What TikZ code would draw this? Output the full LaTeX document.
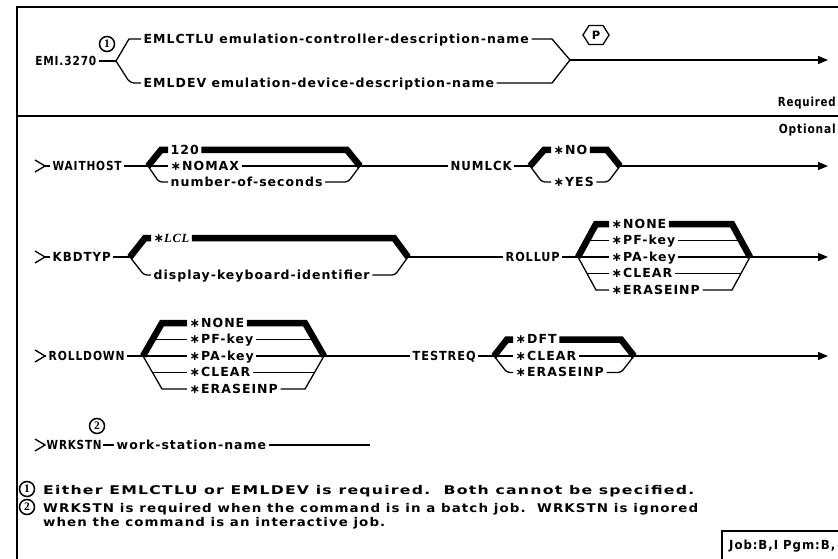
\documentclass[tikz,border=0pt]{standalone}
\usepackage{fontspec}
\usepackage{graphicx}
\setmainfont{DejaVu Sans}
\newfontfamily\lblfont{DejaVu Sans}[LetterSpace=8]
\newfontfamily\fnfont{DejaVu Sans}[LetterSpace=8]
\newfontfamily\lclfont{Liberation Serif}[LetterSpace=6]
\newfontfamily\numfont{Liberation Serif}
\newcommand\fitw[2]{\resizebox{#1}{\height}{#2}}
\usetikzlibrary{arrows.meta,calc}
\begin{document}
\begin{tikzpicture}[x=1pt,y=-1pt,
  lbl/.style={font=\lblfont\bfseries\fontsize{12.5}{14}\selectfont, inner xsep=2.5pt, inner ysep=0pt, text height=8.5pt, text depth=0pt, anchor=west},
  fn/.style={font=\fnfont\bfseries\fontsize{12}{14}\selectfont, inner xsep=0pt, inner ysep=0pt, text height=8.5pt, text depth=0pt, anchor=west},
  ln/.style={line width=1.3pt},
  tk/.style={line width=6.5pt},
  fr/.style={line width=2pt},
  arr/.style={ln, -{Triangle[length=10pt,width=8pt]}},
  num/.style={circle, draw, line width=1.5pt, inner sep=0pt, minimum size=15pt, font=\numfont\bfseries\fontsize{11.5}{11.5}\selectfont},
  entry/.style={ln},
]
\useasboundingbox (0,0) rectangle (838,559);
% frame
\draw[fr] (838,7) -- (17,7) -- (17,559);
\draw[fr] (17,116) -- (838,116);
\node[lbl, anchor=east, inner xsep=1pt] (req) at (837,102) {\fitw{58pt}{Required}};
\node[lbl, anchor=east, inner xsep=1pt] (opt) at (837,129) {\fitw{57pt}{Optional}};

% required part
\node[lbl, anchor=east] (eml) at (99,61) {\fitw{61pt}{EMI.3270}};
\coordinate (b1) at (116,61);
\coordinate (m1) at (570,60);
\node[num] (c1) at (107,44) {1};
\node[lbl] (ctlu) at (141,39) {EMLCTLU emulation-controller-description-name};
\node[lbl] (dev) at (141,83) {EMLDEV emulation-device-description-name};
\draw[ln] (eml.east) -- (b1);
\draw[ln] (b1) -- (129,39) -- (ctlu.west);
\draw[ln, rounded corners=4pt] (b1) -- (130,83) -- (dev.west);
\draw[ln] (ctlu.east) -- (552,39) -- (m1);
\draw[ln] (dev.east) -- (552,83) -- (m1);
\node[font=\bfseries\fontsize{11.5}{11.5}\selectfont, inner sep=0pt] (P) at (596,35) {P};
\draw[ln] ($(P)+(-13,0)$) -- ($(P)+(-7,-9.5)$) -- ($(P)+(7,-9.5)$) -- ($(P)+(13,0)$) -- ($(P)+(7,9.5)$) -- ($(P)+(-7,9.5)$) -- cycle;
\draw[arr] (m1) -- (828,60);

% WAITHOST row
\draw[entry] (35,160) -- (45,166) -- (35,172);
\node[lbl] (waithost) at (50,166) {\fitw{69pt}{WAITHOST}};
\coordinate (wb) at (148,166);
\coordinate (wm) at (360,166);
\node[lbl] (w120) at (168,150) {120};
\node[lbl] (wnomax) at (168,166) {∗NOMAX};
\node[lbl] (wnos) at (168,182) {number-of-seconds};
\draw[ln] (45,166) -- (waithost.west);
\draw[ln] (waithost.east) -- (wb) -- (wnomax.west);
\draw[tk] (wb) -- (161,150) -- (w120.west);
\draw[ln, rounded corners=3pt] (wb) -- (159,182) -- (wnos.west);
\draw[tk] (w120.east) -- (347,150) -- (wm);
\draw[ln] (wnomax.east) -- (wm);
\draw[ln, rounded corners=3pt] (wnos.east) -- (348,182) -- (wm);
\node[lbl] (numlck) at (448,166) {\fitw{61pt}{NUMLCK}};
\draw[ln] (wm) -- (numlck.west);
\coordinate (nb) at (530,166);
\coordinate (nm) at (620,166);
\node[lbl] (nno) at (551,150) {∗NO};
\node[lbl] (nyes) at (551,182) {∗YES};
\draw[ln] (numlck.east) -- (nb);
\draw[tk] (nb) -- (544,150) -- (nno.west);
\draw[ln, rounded corners=3pt] (nb) -- (542,182) -- (nyes.west);
\draw[tk] (nno.east) -- (607,150) -- (nm);
\draw[ln, rounded corners=3pt] (nyes.east) -- (608,182) -- (nm);
\draw[arr] (nm) -- (828,166);

% KBDTYP row
\draw[entry] (35,251) -- (45,257) -- (35,263);
\node[lbl] (kbdtyp) at (50,257) {\fitw{58pt}{KBDTYP}};
\coordinate (kb) at (130,257);
\coordinate (km) at (408,257);
\node[lbl] (klcl) at (151,238) {∗{\lclfont\itshape LCL}};
\node[lbl] (kdki) at (151,275) {display-keyboard-identifier};
\draw[ln] (45,257) -- (kbdtyp.west);
\draw[ln] (kbdtyp.east) -- (kb);
\draw[tk] (kb) -- (145,238) -- (klcl.west);
\draw[ln, rounded corners=3pt] (kb) -- (144,275) -- (kdki.west);
\draw[tk] (klcl.east) -- (394,238) -- (km);
\draw[ln, rounded corners=3pt] (kdki.east) -- (395,275) -- (km);
\node[lbl] (rollup) at (503,257) {\fitw{54pt}{ROLLUP}};
\draw[ln] (km) -- (rollup.west);
\coordinate (ub) at (578,257);
\coordinate (um) at (750,257);
\node[lbl] (unone) at (609,224) {∗NONE};
\node[lbl] (upf) at (609,240.5) {∗PF-key};
\node[lbl] (upa) at (609,257) {∗PA-key};
\node[lbl] (uclear) at (609,273.5) {∗CLEAR};
\node[lbl] (uerase) at (609,290) {∗ERASEINP};
\draw[ln] (rollup.east) -- (ub);
\draw[tk] (ub) -- (596,224) -- (unone.west);
\draw[ln] (587,240.5) -- (upf.west);
\draw[ln] (ub) -- (upa.west);
\draw[ln] (587,273.5) -- (uclear.west);
\draw[ln] (ub) -- (596,290) -- (uerase.west);
\draw[tk] (unone.east) -- (732,224) -- (um);
\draw[ln] (upf.east) -- (741,240.5);
\draw[ln] (upa.east) -- (um);
\draw[ln] (uclear.east) -- (741,273.5);
\draw[ln] (uerase.east) -- (732,290) -- (um);
\draw[arr] (um) -- (828,257);

% ROLLDOWN row
\draw[entry] (35,350) -- (45,356) -- (35,362);
\node[lbl] (rolldown) at (46,356) {\fitw{76pt}{ROLLDOWN}};
\coordinate (db) at (143,356);
\coordinate (dm) at (324,356);
\node[lbl] (dnone) at (187,323) {∗NONE};
\node[lbl] (dpf) at (187,339.5) {∗PF-key};
\node[lbl] (dpa) at (187,356) {∗PA-key};
\node[lbl] (dclear) at (187,372.5) {∗CLEAR};
\node[lbl] (derase) at (187,389) {∗ERASEINP};
\draw[ln] (45,356) -- (rolldown.west);
\draw[ln] (rolldown.east) -- (db);
\draw[tk] (db) -- (162,323) -- (dnone.west);
\draw[ln] (152.5,339.5) -- (dpf.west);
\draw[ln] (db) -- (dpa.west);
\draw[ln] (152.5,372.5) -- (dclear.west);
\draw[ln] (db) -- (162,389) -- (derase.west);
\draw[tk] (dnone.east) -- (305,323) -- (dm);
\draw[ln] (dpf.east) -- (314.5,339.5);
\draw[ln] (dpa.east) -- (dm);
\draw[ln] (dclear.east) -- (314.5,372.5);
\draw[ln] (derase.east) -- (305,389) -- (dm);
\node[lbl] (testreq) at (410,356) {\fitw{63pt}{TESTREQ}};
\draw[ln] (dm) -- (testreq.west);
\coordinate (tb) at (494,356);
\coordinate (tm) at (634,356);
\node[lbl] (tdft) at (513,339.5) {∗DFT};
\node[lbl] (tclear) at (513,356) {∗CLEAR};
\node[lbl] (terase) at (513,372.5) {∗ERASEINP};
\draw[ln] (testreq.east) -- (tb);
\draw[tk] (tb) -- (507,339.5) -- (tdft.west);
\draw[ln] (tb) -- (tclear.west);
\draw[ln, rounded corners=3pt] (tb) -- (507,372.5) -- (terase.west);
\draw[tk] (tdft.east) -- (621,339.5) -- (tm);
\draw[ln] (tclear.east) -- (tm);
\draw[ln, rounded corners=3pt] (terase.east) -- (621,372.5) -- (tm);
\draw[arr] (tm) -- (828,356);

% WRKSTN row
\draw[entry] (35,439) -- (45,445) -- (35,451);
\node[lbl, inner xsep=1.5pt] (wrkstn) at (45,445) {\fitw{55pt}{WRKSTN}};
\node[num] (c2) at (97,426) {2};
\node[lbl] (wsn) at (114,445) {work-station-name};
\coordinate (wend) at (370,445);
\draw[ln] (wrkstn.east) -- (wsn.west);
\draw[ln] (wsn.east) -- (wend);

% footnotes
\node[num] (f1) at (27,489) {1};
\node[fn] (fn1) at (43,490) {\fitw{651pt}{Either EMLCTLU or EMLDEV is required.\ \ Both cannot be specified.}};
\node[num] (f2) at (27,507) {2};
\node[fn] (fn2) at (43,508) {\fitw{655pt}{WRKSTN is required when the command is in a batch job.\ \ WRKSTN is ignored}};
\node[fn] (fn3) at (43,522) {\fitw{342pt}{when the command is an interactive job.}};

% bottom box
\draw[fr] (722,559) -- (722,531) -- (838,531);
\node[lbl, inner xsep=0pt] (job) at (729,545) {\fitw{106pt}{Job:B,I Pgm:B,}};
\end{tikzpicture}
\end{document}
